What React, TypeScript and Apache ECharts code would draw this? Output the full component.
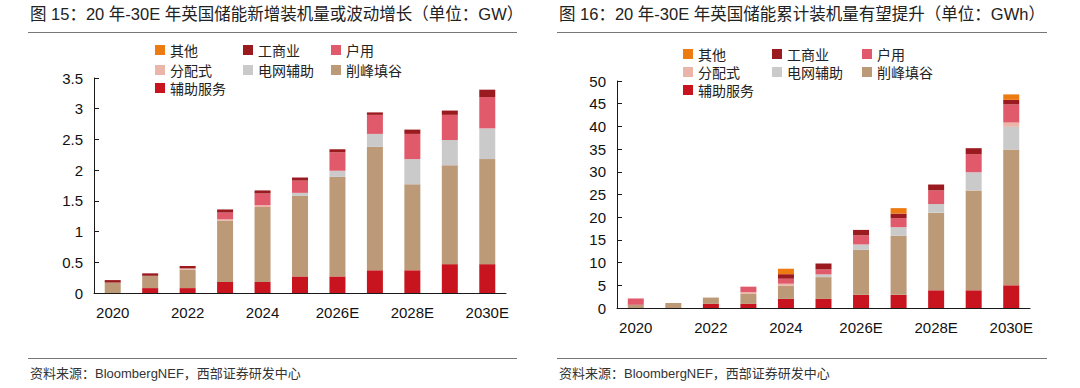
import React, { useEffect, useRef } from "react";
import * as echarts from "echarts";

const categories = ["2020", "2021", "2022", "2023", "2024", "2025", "2026E", "2027E", "2028E", "2029E", "2030E"];
const seriesNames = ["辅助服务", "削峰填谷", "电网辅助", "分配式", "户用", "工商业", "其他"];
const seriesColors = ["#C8141E", "#BC9A78", "#CACACA", "#EBB5A9", "#E05A6B", "#9A1A1F", "#EE7A12"];

// 新增装机量 (GW)
const gwAux = [0, 0.08, 0.08, 0.18, 0.18, 0.27, 0.27, 0.37, 0.37, 0.47, 0.47];
const gwPeak = [0.17, 0.2, 0.3, 1.0, 1.22, 1.31, 1.62, 2.01, 1.4, 1.61, 1.71];
const gwGrid = [0, 0, 0, 0, 0, 0.05, 0.1, 0.21, 0.41, 0.41, 0.5];
const gwDist = [0, 0, 0.02, 0.02, 0.03, 0, 0, 0, 0, 0, 0];
const gwHome = [0, 0, 0, 0.11, 0.19, 0.2, 0.3, 0.31, 0.41, 0.41, 0.51];
const gwCI = [0.04, 0.04, 0.04, 0.05, 0.05, 0.05, 0.05, 0.04, 0.07, 0.07, 0.12];
const gwOther = [0, 0, 0, 0, 0, 0, 0, 0, 0, 0, 0];

// 累计装机量 (GWh)
const gwhAux = [0, 0, 0.9, 0.9, 2.0, 2.0, 2.9, 2.9, 3.9, 3.9, 5.0];
const gwhPeak = [0.7, 1.1, 1.4, 2.2, 2.9, 4.8, 9.9, 13.0, 17.1, 22.0, 29.9];
const gwhGrid = [0, 0, 0, 0, 0, 0.6, 1.2, 1.9, 1.9, 4.0, 5.0];
const gwhDist = [0, 0, 0, 0.4, 0.45, 0, 0, 0, 0, 0, 0.95];
const gwhHome = [1.4, 0, 0, 1.2, 1.1, 1.1, 2.0, 2.0, 3.0, 4.0, 4.0];
const gwhCI = [0, 0, 0, 0, 1.0, 1.3, 1.2, 1.0, 1.3, 1.3, 1.0];
const gwhOther = [0, 0, 0, 0, 1.2, 0, 0, 1.2, 0, 0, 1.2];

const leftData = [gwAux, gwPeak, gwGrid, gwDist, gwHome, gwCI, gwOther];
const rightData = [gwhAux, gwhPeak, gwhGrid, gwhDist, gwhHome, gwhCI, gwhOther];

const title1 = "图 15：20 年-30E 年英国储能新增装机量或波动增长（单位：GW）";
const title2 = "图 16：20 年-30E 年英国储能累计装机量有望提升（单位：GWh）";
const sourceText = "资料来源：BloombergNEF，西部证券研发中心";

const legendOrder = ["其他", "工商业", "户用", "分配式", "电网辅助", "削峰填谷", "辅助服务"];

const FONT = "'Liberation Sans', 'Noto Sans CJK SC', sans-serif";
const AXIS_COLOR = "#1a1a1a";

export default function App() {
  const ref = useRef<HTMLDivElement>(null);
  useEffect(() => {
    document.body.style.margin = "0";
    if (!ref.current) return;
    const chart = echarts.init(ref.current, null, { renderer: "svg" });

    const grids = [
      { left: 94, top: 78, width: 412, height: 215 },
      { left: 617, top: 81, width: 413, height: 227 },
    ];

    const xAxes = [0, 1].map((i) => ({
      type: "category",
      gridIndex: i,
      data: categories,
      axisLine: { lineStyle: { color: AXIS_COLOR, width: 1 } },
      axisTick: { inside: true, length: 5, interval: 0, lineStyle: { color: AXIS_COLOR } },
      axisLabel: { interval: 1, color: "#111", fontSize: 15, fontFamily: FONT, margin: 12 },
    }));

    const yAxes = [
      { min: 0, max: 3.5, interval: 0.5 },
      { min: 0, max: 50, interval: 5 },
    ].map((s, i) => ({
      type: "value",
      gridIndex: i,
      ...s,
      splitLine: { show: false },
      axisLine: { show: true, lineStyle: { color: AXIS_COLOR, width: 1 } },
      axisTick: { show: true, inside: true, length: 5, lineStyle: { color: AXIS_COLOR } },
      axisLabel: { color: "#111", fontSize: 15, fontFamily: FONT, margin: 11 },
    }));

    const series: any[] = [];
    [leftData, rightData].forEach((dataset, gi) => {
      seriesNames.forEach((name, si) => {
        series.push({
          type: "bar",
          name,
          stack: "s" + gi,
          xAxisIndex: gi,
          yAxisIndex: gi,
          barWidth: 16,
          data: dataset[si],
          itemStyle: { color: seriesColors[si] },
        });
      });
    });

    const legendPos = [
      { cols: [155, 243, 331], rows: [50, 70, 88] },
      { cols: [683, 772, 862], rows: [54, 72, 90] },
    ];
    const legends: any[] = [];
    legendPos.forEach((lp) => {
      legendOrder.forEach((name, k) => {
        const c = k % 3;
        const r = Math.floor(k / 3);
        legends.push({
          data: [name],
          left: lp.cols[c],
          top: lp.rows[r] - 7,
          padding: 0,
          itemWidth: 10,
          itemHeight: 10,
          itemGap: 0,
          icon: "rect",
          selectedMode: false,
          textStyle: { fontSize: 14, lineHeight: 14, color: "#222", fontFamily: "'Noto Sans CJK SC', sans-serif" },
        });
      });
    });

    const graphic: any[] = [
      { type: "text", left: 30, top: 6, style: { text: title1, fontSize: 16.5, fill: "#222", fontFamily: FONT } },
      { type: "text", left: 559, top: 6, style: { text: title2, fontSize: 16.5, fill: "#222", fontFamily: FONT } },
      { type: "line", shape: { x1: 28, y1: 32.5, x2: 517, y2: 32.5 }, style: { stroke: "#777", lineWidth: 1 } },
      { type: "line", shape: { x1: 557, y1: 32.5, x2: 1047, y2: 32.5 }, style: { stroke: "#777", lineWidth: 1 } },
      { type: "line", shape: { x1: 28, y1: 358.5, x2: 517, y2: 358.5 }, style: { stroke: "#777", lineWidth: 1 } },
      { type: "line", shape: { x1: 557, y1: 358.5, x2: 1047, y2: 358.5 }, style: { stroke: "#777", lineWidth: 1 } },
      { type: "text", left: 30, top: 367, style: { text: sourceText, fontSize: 13, fill: "#333", fontFamily: FONT } },
      { type: "text", left: 559, top: 367, style: { text: sourceText, fontSize: 13, fill: "#333", fontFamily: FONT } },
    ];

    chart.setOption({
      animation: false,
      backgroundColor: "#ffffff",
      grid: grids,
      xAxis: xAxes,
      yAxis: yAxes,
      legend: legends,
      series,
      graphic,
    });
    return () => chart.dispose();
  }, []);
  return <div ref={ref} style={{ width: 1080, height: 388 }} />;
}
